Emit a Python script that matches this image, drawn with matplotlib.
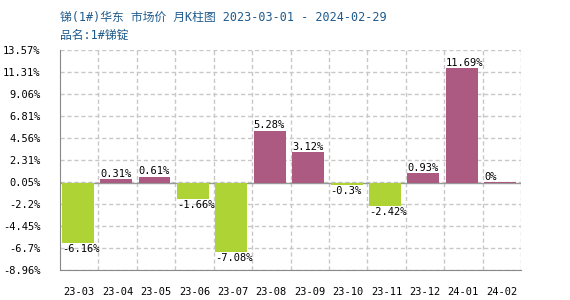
import matplotlib
matplotlib.use("Agg")
import matplotlib.pyplot as plt
import numpy as np

months = ["23-03", "23-04", "23-05", "23-06", "23-07", "23-08",
          "23-09", "23-10", "23-11", "23-12", "24-01", "24-02"]
changes = [-6.16, 0.31, 0.61, -1.66, -7.08, 5.28,
           3.12, -0.3, -2.42, 0.93, 11.69, 0.0]
ytick_vals = [13.57, 11.31, 9.06, 6.81, 4.56, 2.31, 0.05, -2.2, -4.45, -6.7, -8.96]
ytick_labels = ["13.57%", "11.31%", "9.06%", "6.81%", "4.56%", "2.31%",
                "0.05%", "-2.2%", "-4.45%", "-6.7%", "-8.96%"]

up_color = "#AD5A83"
down_color = "#ADD434"
mono = ["DejaVu Sans Mono"]
cjk = ["DejaVu Sans Mono", "Noto Sans CJK SC"]

fig = plt.figure(figsize=(5.7, 3.0), dpi=100)
ax = fig.add_axes([60 / 570, 30 / 300, 461 / 570, 220 / 300])

n = len(months)
x = np.arange(n)
colors = [up_color if v >= 0 else down_color for v in changes]
width = 0.83
offset = -0.04
ax.bar(x + offset, changes, width=width, color=colors, zorder=3)
ax.bar(x[-1] + offset, 0.08, width=width, color=up_color, zorder=3)

for xi, v in zip(x, changes):
    left = xi + offset - width / 2
    label = f"{v:g}%"
    if v >= 0:
        ax.text(left, v + 0.05, label, ha="left", va="bottom",
                fontsize=7.5, family=mono, zorder=4)
    else:
        ax.text(left, v - 0.1, label, ha="left", va="top",
                fontsize=7.5, family=mono, zorder=4)

ax.set_xlim(-0.5, n - 0.5)
ax.set_ylim(-8.96, 13.57)
ax.set_yticks(ytick_vals)
ax.set_yticklabels(ytick_labels, family=mono, fontsize=7.5)
ax.set_xticks(x)
ax.set_xticklabels(months, family=mono, fontsize=7.5)
ax.tick_params(axis="both", length=0)
ax.tick_params(axis="y", pad=14)
ax.tick_params(axis="x", pad=12)

# dashed grid on cell boundaries
for b in np.arange(-0.5, n + 0.5, 1.0)[1:]:
    ax.axvline(b, color="#C8C8C8", linestyle=(0, (3, 2)), linewidth=1, zorder=1)
for yv in ytick_vals:
    ax.axhline(yv, color="#C8C8C8", linestyle=(0, (3, 2)), linewidth=1, zorder=1)
ax.axhline(0, color="#999999", linewidth=1, zorder=2)

for side in ["top", "right"]:
    ax.spines[side].set_visible(False)
ax.spines["left"].set_color("#888888")
ax.spines["bottom"].set_color("#888888")

fig.text(60 / 570, 1 - 17 / 300, "锑(1#)华东 市场价 月K柱图 2023-03-01 - 2024-02-29",
         color="#1F5A8C", fontsize=8.5, family=cjk, va="center", ha="left")
fig.text(60 / 570, 1 - 35 / 300, "品名:1#锑锭",
         color="#1F5A8C", fontsize=8.5, family=cjk, va="center", ha="left")

fig.savefig("out.png", dpi=100)
